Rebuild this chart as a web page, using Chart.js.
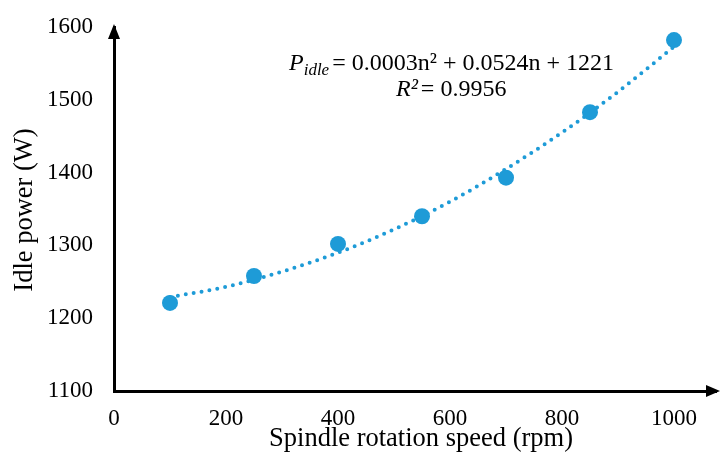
<!DOCTYPE html>
<html><head><meta charset="utf-8">
<script src="https://cdn.jsdelivr.net/npm/chart.js@4/dist/chart.umd.min.js"></script>
<style>html,body{margin:0;padding:0;background:#fff}#w{width:721px;height:452px}</style>
</head><body><div id="w"><canvas id="c"></canvas></div>
<script>
const speeds = [100, 250, 400, 550, 700, 850, 1000];
const idlePower = [1221, 1258, 1302, 1340, 1393, 1483, 1582];
const trendX = [100, 200, 300, 400, 500, 600, 700, 800, 900, 1000];
const trendY = [1229, 1243, 1264, 1290, 1322, 1360, 1405, 1455, 1511, 1573];
const xTicks = [0, 200, 400, 600, 800, 1000];
const yTicks = [1100, 1200, 1300, 1400, 1500, 1600];
const xTitle = 'Spindle rotation speed (rpm)';
const yTitle = 'Idle power (W)';
const eqMain = '= 0.0003n² + 0.0524n + 1221';
const eqR2 = '= 0.9956';

const FONT = '"Liberation Serif", "Times New Roman", serif';
const BLUE = '#1e9bd7';

const deco = {
  id: 'deco',
  afterDraw(chart) {
    const ctx = chart.ctx, a = chart.chartArea;
    ctx.save();
    ctx.fillStyle = '#000';
    // y arrow
    ctx.beginPath();
    ctx.moveTo(a.left, a.top - 3);
    ctx.lineTo(a.left - 6, a.top + 12);
    ctx.lineTo(a.left + 6, a.top + 12);
    ctx.closePath(); ctx.fill();
    // x arrow
    ctx.beginPath();
    ctx.moveTo(a.right + 4, a.bottom);
    ctx.lineTo(a.right - 10, a.bottom - 6);
    ctx.lineTo(a.right - 10, a.bottom + 6);
    ctx.closePath(); ctx.fill();
    // titles
    ctx.font = '26.5px ' + FONT;
    ctx.textAlign = 'center'; ctx.textBaseline = 'middle';
    ctx.fillText(xTitle, 421, 439);
    ctx.save();
    ctx.translate(25, 210);
    ctx.rotate(-Math.PI / 2);
    ctx.fillText(yTitle, 0, 0);
    ctx.restore();
    // equation
    ctx.textAlign = 'left'; ctx.textBaseline = 'alphabetic';
    ctx.font = 'italic 24px ' + FONT;
    const x0 = 289, y0 = 70;
    ctx.fillText('P', x0, y0);
    let x = x0 + ctx.measureText('P').width;
    ctx.font = 'italic 17px ' + FONT;
    ctx.fillText('idle', x, y0 + 5);
    x += ctx.measureText('idle').width + 3;
    ctx.font = '24px ' + FONT;
    ctx.fillText(eqMain, x, y0);
    // R2
    const y1 = 96, x1 = 396;
    ctx.font = 'italic 24px ' + FONT;
    ctx.fillText('R²', x1, y1);
    let xr = x1 + ctx.measureText('R²').width + 3;
    ctx.font = '24px ' + FONT;
    ctx.fillText(eqR2, xr, y1);
    ctx.restore();
  }
};

new Chart(document.getElementById('c'), {
  type: 'scatter',
  data: {
    datasets: [
      {
        data: trendX.map((v, i) => ({x: v, y: trendY[i]})),
        showLine: true, pointRadius: 0, borderColor: BLUE, borderWidth: 4,
        borderDash: [0, 8], borderCapStyle: 'round', cubicInterpolationMode: 'monotone', fill: false, order: 2
      },
      {
        data: speeds.map((v, i) => ({x: v, y: idlePower[i]})),
        pointRadius: 8, pointBackgroundColor: BLUE, pointBorderColor: BLUE, pointBorderWidth: 0, order: 1
      }
    ]
  },
  options: {
    responsive: true, maintainAspectRatio: false, animation: false,
    layout: {autoPadding: false, padding: {top: 27, right: 5, left: 0, bottom: 0}},
    plugins: {legend: {display: false}, tooltip: {enabled: false}},
    scales: {
      x: {
        type: 'linear', min: 0, max: 1075,
        afterBuildTicks: s => { s.ticks = xTicks.map(v => ({value: v})); },
        afterFit: s => { s.height = 61; s.paddingLeft = 0; s.paddingRight = 0; },
        grid: {display: false, drawTicks: false},
        border: {color: '#000', width: 3},
        ticks: {color: '#000', font: {family: FONT, size: 23}, padding: 14, maxRotation: 0, callback: v => String(v)}
      },
      y: {
        min: 1100, max: 1600,
        afterBuildTicks: s => { s.ticks = yTicks.map(v => ({value: v})); },
        afterFit: s => { s.width = 114; s.paddingTop = 0; s.paddingBottom = 0; },
        grid: {display: false, drawTicks: false},
        border: {color: '#000', width: 3},
        ticks: {color: '#000', font: {family: FONT, size: 23}, padding: 21, callback: v => String(v)}
      }
    }
  },
  plugins: [deco]
});
</script></body></html>
